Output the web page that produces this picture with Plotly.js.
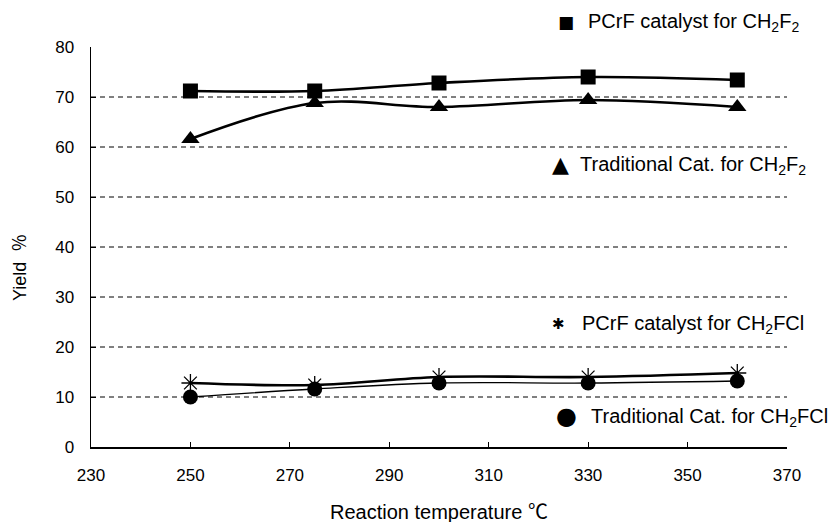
<!DOCTYPE html>
<html>
<head>
<meta charset="utf-8">
<script src="https://cdn.plot.ly/plotly-3.0.1.min.js"></script>
<style>body{margin:0;background:#fff;}#chart{width:832px;height:522px;}</style>
</head>
<body>
<div id="chart"></div>
<script>
const temps = [250, 275, 300, 330, 360];
const pcrfCH2F2 = [71.2, 71.2, 72.8, 74.0, 73.4];
const tradCH2F2 = [61.6, 68.8, 68.0, 69.4, 68.0];
const pcrfCH2FCl = [12.8, 12.4, 14.0, 14.0, 14.8];
const tradCH2FCl = [10.0, 11.6, 12.8, 12.8, 13.2];
const xTicks = [230, 250, 270, 290, 310, 330, 350, 370];
const yTicks = [0, 10, 20, 30, 40, 50, 60, 70, 80];
const labels = [
  "PCrF catalyst for CH<sub>2</sub>F<sub>2</sub>",
  "Traditional Cat. for CH<sub>2</sub>F<sub>2</sub>",
  "PCrF catalyst for CH<sub>2</sub>FCl",
  "Traditional Cat. for CH<sub>2</sub>FCl"
];
const symbols = ["■", "▲", "✱", "●"];
const xTitle = "Reaction temperature ℃";
const yTitle = "Yield  ％";

const FONT = "Liberation Sans, Arial, Noto Sans CJK JP, sans-serif";
const L = 91, R = 45, T = 47, B = 75, W = 832, H = 522;
const pw = W - L - R, ph = H - T - B;
const px = v => (v - L) / pw;
const py = v => (H - B - v) / ph;

const traces = [
  {x: temps, y: pcrfCH2F2, mode: 'lines+markers', line: {color: '#000', width: 2.6, shape: 'spline', smoothing: 1},
   marker: {symbol: 'square', size: 15, color: '#000'}},
  {x: temps, y: tradCH2F2, mode: 'lines+markers', line: {color: '#000', width: 2.6, shape: 'spline', smoothing: 1},
   marker: {symbol: 'triangle-up', size: 16, color: '#000'}},
  {x: temps, y: pcrfCH2FCl, mode: 'lines+markers', line: {color: '#000', width: 2.6, shape: 'spline', smoothing: 1},
   marker: {symbol: 'asterisk-open', size: 15, color: '#000', line: {color: '#000', width: 1.3}}},
  {x: temps, y: tradCH2FCl, mode: 'lines+markers', line: {color: '#000', width: 1.3, shape: 'spline', smoothing: 1},
   marker: {symbol: 'circle', size: 15, color: '#000'}}
];

const gridShapes = yTicks.filter(v => v > 0 && v < 80).map(v => ({
  type: 'line', xref: 'paper', x0: 0, x1: 1, yref: 'y', y0: v, y1: v,
  line: {color: '#000', width: 1, dash: '5px,4px'}
}));

// pixel positions of the inline key labels
const symPos = [{x: 566, y: 22, s: 17}, {x: 560, y: 164, s: 22}, {x: 558, y: 324, s: 15}, {x: 566, y: 416, s: 24}];
const txtPos = [{x: 586, y: 22}, {x: 578, y: 165}, {x: 580, y: 324}, {x: 589, y: 417}];

const annotations = [];
labels.forEach((t, i) => {
  annotations.push({
    text: symbols[i], xref: 'paper', yref: 'paper', x: px(symPos[i].x), y: py(symPos[i].y),
    xanchor: 'center', yanchor: 'middle', showarrow: false,
    font: {family: "DejaVu Sans, sans-serif", size: symPos[i].s, color: '#000'}
  });
  annotations.push({
    text: t, xref: 'paper', yref: 'paper', x: px(txtPos[i].x), y: py(txtPos[i].y),
    xanchor: 'left', yanchor: 'middle', showarrow: false,
    font: {family: FONT, size: 20, color: '#000'}
  });
});
annotations.push({
  text: xTitle, xref: 'paper', yref: 'paper', x: 0.5, y: py(512),
  xanchor: 'center', yanchor: 'middle', showarrow: false,
  font: {family: FONT, size: 20, color: '#000'}
});
annotations.push({
  text: yTitle, xref: 'paper', yref: 'paper', x: px(20), y: py(268), textangle: -90,
  xanchor: 'center', yanchor: 'middle', showarrow: false,
  font: {family: FONT, size: 18, color: '#000'}
});

const layout = {
  width: W, height: H,
  margin: {l: L, r: R, t: T, b: B},
  paper_bgcolor: '#fff', plot_bgcolor: '#fff',
  showlegend: false,
  font: {family: FONT, size: 17, color: '#000'},
  xaxis: {
    range: [230, 370], tickvals: xTicks, ticktext: xTicks.map(String),
    ticks: 'inside', ticklen: 5, tickcolor: '#000', showgrid: false, zeroline: false,
    showline: true, linecolor: '#000', linewidth: 1.5, ticklabelstandoff: 12,
    tickfont: {family: FONT, size: 17}
  },
  yaxis: {
    range: [0, 80], tickvals: yTicks, ticktext: yTicks.map(String),
    ticks: 'inside', ticklen: 5, tickcolor: '#000', showgrid: false, zeroline: false,
    showline: true, linecolor: '#000', linewidth: 1.5, ticklabelstandoff: 12,
    tickfont: {family: FONT, size: 17}
  },
  shapes: gridShapes,
  annotations: annotations
};

Plotly.newPlot('chart', traces, layout, {staticPlot: true, displayModeBar: false});
</script>
</body>
</html>
